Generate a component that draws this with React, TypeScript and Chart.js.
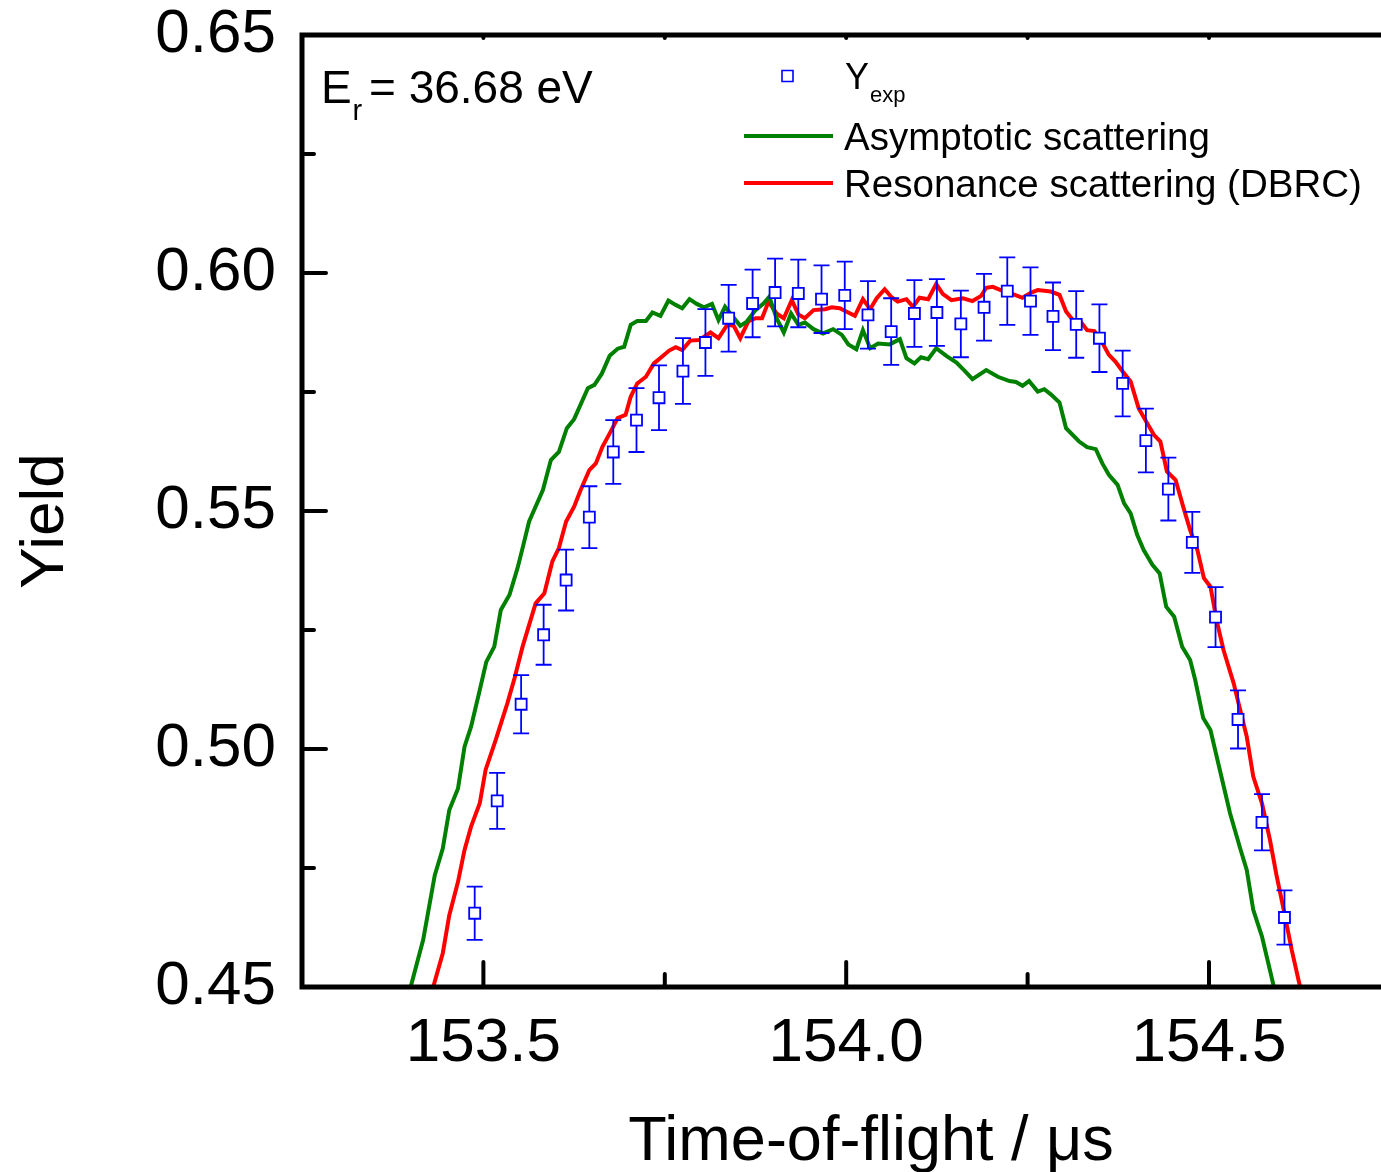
import React, { useEffect, useRef } from "react";
import { Chart, registerables } from "chart.js";

Chart.register(...registerables);

const FONT = "'Liberation Sans', Arial, Helvetica, sans-serif";
Chart.defaults.font.family = FONT;

// ---- data ----
const expTof = [153.488, 153.519, 153.552, 153.583, 153.614, 153.646, 153.679, 153.711, 153.742, 153.775, 153.806, 153.838, 153.871, 153.902, 153.934, 153.966, 153.998, 154.030, 154.062, 154.094, 154.125, 154.158, 154.190, 154.222, 154.254, 154.285, 154.317, 154.349, 154.381, 154.413, 154.444, 154.477, 154.509, 154.540, 154.573, 154.604];
const expYield = [0.4655, 0.4891, 0.5094, 0.5240, 0.5355, 0.5487, 0.5624, 0.5691, 0.5738, 0.5794, 0.5854, 0.5905, 0.5936, 0.5959, 0.5957, 0.5945, 0.5953, 0.5912, 0.5877, 0.5915, 0.5917, 0.5893, 0.5928, 0.5962, 0.5941, 0.5909, 0.5892, 0.5863, 0.5768, 0.5648, 0.5546, 0.5434, 0.5277, 0.5062, 0.4846, 0.4646];
const expErr = [0.0056, 0.0059, 0.0061, 0.0063, 0.0064, 0.0065, 0.0067, 0.0067, 0.0068, 0.0069, 0.0070, 0.0070, 0.0071, 0.0071, 0.0071, 0.0071, 0.0071, 0.0071, 0.0070, 0.0070, 0.0070, 0.0070, 0.0070, 0.0071, 0.0071, 0.0071, 0.0070, 0.0071, 0.0069, 0.0067, 0.0066, 0.0064, 0.0063, 0.0061, 0.0059, 0.0057];

const asymTof = [153.398, 153.417, 153.433, 153.444, 153.453, 153.465, 153.474, 153.483, 153.495, 153.504, 153.515, 153.524, 153.536, 153.547, 153.554, 153.563, 153.582, 153.593, 153.604, 153.615, 153.625, 153.644, 153.653, 153.663, 153.674, 153.685, 153.694, 153.703, 153.712, 153.724, 153.733, 153.744, 153.755, 153.765, 153.774, 153.784, 153.794, 153.804, 153.815, 153.824, 153.833, 153.842, 153.854, 153.863, 153.875, 153.886, 153.894, 153.904, 153.914, 153.924, 153.934, 153.943, 153.955, 153.968, 153.982, 153.994, 154.003, 154.014, 154.023, 154.033, 154.044, 154.060, 154.074, 154.083, 154.094, 154.103, 154.113, 154.124, 154.138, 154.152, 154.163, 154.174, 154.193, 154.209, 154.225, 154.234, 154.243, 154.252, 154.264, 154.273, 154.282, 154.294, 154.303, 154.321, 154.332, 154.344, 154.353, 154.362, 154.374, 154.383, 154.392, 154.401, 154.410, 154.422, 154.432, 154.441, 154.452, 154.463, 154.474, 154.481, 154.492, 154.502, 154.516, 154.529, 154.543, 154.552, 154.561, 154.573, 154.591];
const asymYield = [0.4490, 0.4599, 0.4735, 0.4791, 0.4872, 0.4917, 0.5005, 0.5047, 0.5124, 0.5183, 0.5215, 0.5292, 0.5324, 0.5380, 0.5422, 0.5478, 0.5544, 0.5607, 0.5624, 0.5674, 0.5693, 0.5758, 0.5765, 0.5788, 0.5826, 0.5841, 0.5845, 0.5891, 0.5899, 0.5899, 0.5917, 0.5910, 0.5942, 0.5933, 0.5926, 0.5945, 0.5935, 0.5928, 0.5935, 0.5901, 0.5929, 0.5912, 0.5889, 0.5898, 0.5922, 0.5936, 0.5950, 0.5905, 0.5875, 0.5915, 0.5891, 0.5896, 0.5882, 0.5873, 0.5882, 0.5870, 0.5850, 0.5840, 0.5880, 0.5842, 0.5852, 0.5850, 0.5861, 0.5821, 0.5810, 0.5823, 0.5819, 0.5842, 0.5826, 0.5812, 0.5795, 0.5777, 0.5796, 0.5782, 0.5773, 0.5771, 0.5763, 0.5773, 0.5751, 0.5756, 0.5745, 0.5728, 0.5674, 0.5646, 0.5634, 0.5630, 0.5600, 0.5576, 0.5555, 0.5516, 0.5495, 0.5450, 0.5418, 0.5387, 0.5369, 0.5299, 0.5278, 0.5215, 0.5187, 0.5145, 0.5065, 0.5040, 0.4949, 0.4865, 0.4791, 0.4746, 0.4662, 0.4606, 0.4490];

const resTof = [153.429, 153.444, 153.453, 153.465, 153.474, 153.483, 153.495, 153.503, 153.517, 153.533, 153.543, 153.554, 153.572, 153.584, 153.595, 153.604, 153.614, 153.625, 153.634, 153.646, 153.655, 153.664, 153.673, 153.685, 153.696, 153.703, 153.712, 153.724, 153.735, 153.746, 153.756, 153.765, 153.774, 153.785, 153.797, 153.813, 153.824, 153.836, 153.845, 153.854, 153.865, 153.875, 153.884, 153.893, 153.904, 153.914, 153.925, 153.934, 153.943, 153.955, 153.971, 153.980, 153.991, 154.000, 154.012, 154.023, 154.033, 154.042, 154.053, 154.062, 154.071, 154.083, 154.092, 154.101, 154.113, 154.124, 154.133, 154.145, 154.161, 154.174, 154.186, 154.193, 154.202, 154.213, 154.227, 154.243, 154.255, 154.264, 154.282, 154.294, 154.303, 154.314, 154.323, 154.332, 154.342, 154.351, 154.362, 154.371, 154.381, 154.392, 154.403, 154.415, 154.424, 154.433, 154.442, 154.454, 154.465, 154.474, 154.484, 154.493, 154.502, 154.511, 154.520, 154.534, 154.543, 154.552, 154.561, 154.573, 154.584, 154.593, 154.603, 154.614, 154.627];
const resYield = [0.4490, 0.4571, 0.4651, 0.4721, 0.4788, 0.4837, 0.4886, 0.4956, 0.5019, 0.5096, 0.5149, 0.5215, 0.5306, 0.5327, 0.5394, 0.5422, 0.5478, 0.5509, 0.5544, 0.5586, 0.5600, 0.5635, 0.5660, 0.5695, 0.5702, 0.5740, 0.5768, 0.5782, 0.5810, 0.5824, 0.5837, 0.5844, 0.5838, 0.5858, 0.5859, 0.5875, 0.5863, 0.5891, 0.5889, 0.5863, 0.5898, 0.5905, 0.5905, 0.5940, 0.5915, 0.5905, 0.5943, 0.5913, 0.5905, 0.5922, 0.5924, 0.5928, 0.5926, 0.5919, 0.5910, 0.5945, 0.5924, 0.5947, 0.5966, 0.5950, 0.5940, 0.5945, 0.5929, 0.5948, 0.5945, 0.5977, 0.5956, 0.5943, 0.5947, 0.5941, 0.5952, 0.5969, 0.5971, 0.5964, 0.5957, 0.5948, 0.5959, 0.5964, 0.5961, 0.5954, 0.5919, 0.5898, 0.5898, 0.5880, 0.5878, 0.5859, 0.5828, 0.5814, 0.5793, 0.5772, 0.5716, 0.5684, 0.5660, 0.5646, 0.5583, 0.5565, 0.5506, 0.5460, 0.5418, 0.5359, 0.5341, 0.5267, 0.5208, 0.5138, 0.5082, 0.5026, 0.4942, 0.4886, 0.4809, 0.4735, 0.4662, 0.4578, 0.4490];

const xRange = [153.25, 154.75];
const yRange = [0.45, 0.65];
const xMajorTicks = [153.5, 154.0, 154.5];
const xMinorTicks = [153.75, 154.25];
const yMajorTicks = [0.45, 0.5, 0.55, 0.6, 0.65];
const yMinorTicks = [0.475, 0.525, 0.575, 0.625];

const seriesLabels = ["Yexp", "Asymptotic scattering", "Resonance scattering (DBRC)"];
const xTitle = "Time-of-flight / μs";
const yTitle = "Yield";

const BLUE = "#0000ff";
const GREEN = "#008000";
const RED = "#ff0000";

const errorBarPlugin = {
  id: "errorBars",
  beforeDatasetDraw(chart: any, args: any) {
    if (args.index !== 0) return;
    const { ctx, chartArea } = chart;
    const x = chart.scales.x;
    const y = chart.scales.y;
    ctx.save();
    ctx.beginPath();
    ctx.rect(chartArea.left, chartArea.top, chartArea.right - chartArea.left, chartArea.bottom - chartArea.top);
    ctx.clip();
    ctx.strokeStyle = BLUE;
    ctx.lineWidth = 1.8;
    expTof.forEach((t, i) => {
      const px = x.getPixelForValue(t);
      const top = y.getPixelForValue(expYield[i] + expErr[i]);
      const bot = y.getPixelForValue(expYield[i] - expErr[i]);
      ctx.beginPath();
      ctx.moveTo(px, top);
      ctx.lineTo(px, bot);
      ctx.moveTo(px - 8, top);
      ctx.lineTo(px + 8, top);
      ctx.moveTo(px - 8, bot);
      ctx.lineTo(px + 8, bot);
      ctx.stroke();
    });
    ctx.restore();
  },
};

const decorPlugin = {
  id: "decor",
  afterDraw(chart: any) {
    const { ctx, chartArea } = chart;
    const { left, right, top, bottom } = chartArea;
    const x = chart.scales.x;
    const y = chart.scales.y;
    ctx.save();
    // frame (left, top, bottom)
    ctx.strokeStyle = "#000";
    ctx.lineWidth = 5;
    ctx.lineJoin = "miter";
    ctx.lineCap = "square";
    ctx.beginPath();
    ctx.moveTo(right, top);
    ctx.lineTo(left, top);
    ctx.lineTo(left, bottom);
    ctx.lineTo(right, bottom);
    ctx.stroke();

    // inward ticks
    ctx.lineWidth = 4;
    ctx.lineCap = "round";
    ctx.beginPath();
    xMajorTicks.forEach((v) => {
      const px = x.getPixelForValue(v);
      ctx.moveTo(px, bottom);
      ctx.lineTo(px, bottom - 25);
      ctx.moveTo(px, top);
      ctx.lineTo(px, top + 3);
    });
    xMinorTicks.forEach((v) => {
      const px = x.getPixelForValue(v);
      ctx.moveTo(px, bottom);
      ctx.lineTo(px, bottom - 13);
      ctx.moveTo(px, top);
      ctx.lineTo(px, top + 3);
    });
    yMajorTicks.forEach((v) => {
      const py = y.getPixelForValue(v);
      if (py <= top + 2 || py >= bottom - 2) return;
      ctx.moveTo(left, py);
      ctx.lineTo(left + 24, py);
    });
    yMinorTicks.forEach((v) => {
      const py = y.getPixelForValue(v);
      ctx.moveTo(left, py);
      ctx.lineTo(left + 12, py);
    });
    ctx.stroke();

    // axis titles
    ctx.fillStyle = "#000";
    ctx.textBaseline = "alphabetic";
    ctx.font = `63px ${FONT}`;
    ctx.textAlign = "center";
    ctx.fillText(xTitle, 871, 1160);

    ctx.save();
    ctx.translate(63, 521);
    ctx.rotate(-Math.PI / 2);
    ctx.font = `62px ${FONT}`;
    ctx.textAlign = "center";
    ctx.fillText(yTitle, 0, 0);
    ctx.restore();

    // annotation E_r = 36.68 eV
    ctx.textAlign = "left";
    ctx.font = `46px ${FONT}`;
    ctx.fillText("E", 321, 103);
    ctx.font = `29px ${FONT}`;
    ctx.fillText("r", 352.5, 120);
    ctx.font = `46px ${FONT}`;
    ctx.fillText("= 36.68 eV", 369, 103);

    // legend
    ctx.lineWidth = 1.6;
    ctx.strokeStyle = BLUE;
    ctx.fillStyle = "#fff";
    ctx.beginPath();
    ctx.rect(782, 70.5, 11, 11);
    ctx.fill();
    ctx.stroke();

    ctx.fillStyle = "#000";
    ctx.font = `36px ${FONT}`;
    ctx.fillText("Y", 845, 89);
    ctx.font = `22px ${FONT}`;
    ctx.fillText("exp", 870, 102);

    ctx.lineCap = "butt";
    ctx.lineWidth = 4;
    ctx.strokeStyle = GREEN;
    ctx.beginPath();
    ctx.moveTo(744, 136);
    ctx.lineTo(833, 136);
    ctx.stroke();
    ctx.strokeStyle = RED;
    ctx.beginPath();
    ctx.moveTo(744, 183);
    ctx.lineTo(833, 183);
    ctx.stroke();

    ctx.font = `38.5px ${FONT}`;
    ctx.fillText(seriesLabels[1], 844, 150);
    ctx.fillText(seriesLabels[2], 844, 197);
    ctx.restore();
  },
};

export default function App() {
  const canvasRef = useRef<HTMLCanvasElement | null>(null);

  useEffect(() => {
    const canvas = canvasRef.current;
    if (!canvas) return;
    const chart = new Chart(canvas, {
      type: "line",
      data: {
        datasets: [
          {
            label: seriesLabels[0],
            data: expTof.map((t, i) => ({ x: t, y: expYield[i] })),
            showLine: false,
            pointStyle: "rect",
            pointRadius: 7.8,
            pointBorderWidth: 1.8,
            pointBorderColor: BLUE,
            pointBackgroundColor: "#ffffff",
            borderColor: BLUE,
            backgroundColor: "#ffffff",
          },
          {
            label: seriesLabels[1],
            data: asymTof.map((t, i) => ({ x: t, y: asymYield[i] })),
            borderColor: GREEN,
            borderWidth: 4,
            pointRadius: 0,
            tension: 0,
            fill: false,
          },
          {
            label: seriesLabels[2],
            data: resTof.map((t, i) => ({ x: t, y: resYield[i] })),
            borderColor: RED,
            borderWidth: 4,
            pointRadius: 0,
            tension: 0,
            fill: false,
          },
        ],
      },
      options: {
        responsive: false,
        animation: false,
        devicePixelRatio: 1,
        layout: { padding: { top: 35, right: 6, left: 0, bottom: 0 } },
        plugins: {
          legend: { display: false },
          tooltip: { enabled: false },
        },
        scales: {
          x: {
            type: "linear",
            min: xRange[0],
            max: xRange[1],
            grid: { display: false, drawTicks: false },
            border: { display: false },
            ticks: {
              color: "#000",
              font: { size: 62, lineHeight: 1 },
              padding: 26,
              maxRotation: 0,
              autoSkip: false,
              callback: (v: any) => Number(v).toFixed(1),
            },
            afterBuildTicks: (s: any) => {
              s.ticks = xMajorTicks.map((v) => ({ value: v }));
            },
            afterFit: (s: any) => {
              s.height = 185;
              s.paddingLeft = 0;
              s.paddingRight = 0;
              s.paddingTop = 0;
              s.paddingBottom = 0;
            },
          },
          y: {
            type: "linear",
            min: yRange[0],
            max: yRange[1],
            grid: { display: false, drawTicks: false },
            border: { display: false },
            ticks: {
              color: "#000",
              font: { size: 62, lineHeight: 1 },
              padding: 26,
              autoSkip: false,
              callback: (v: any) => Number(v).toFixed(2),
            },
            afterBuildTicks: (s: any) => {
              s.ticks = yMajorTicks.map((v) => ({ value: v }));
            },
            afterFit: (s: any) => {
              s.width = 302;
              s.paddingLeft = 0;
              s.paddingRight = 0;
              s.paddingTop = 0;
              s.paddingBottom = 0;
            },
          },
        },
      },
      plugins: [errorBarPlugin, decorPlugin],
    });
    return () => chart.destroy();
  }, []);

  return (
    <div
      style={{
        position: "absolute",
        left: 0,
        top: 0,
        width: 1381,
        height: 1172,
        overflow: "hidden",
        background: "#fff",
      }}
    >
      <canvas ref={canvasRef} width={1400} height={1172} style={{ width: 1400, height: 1172, display: "block" }} />
    </div>
  );
}
